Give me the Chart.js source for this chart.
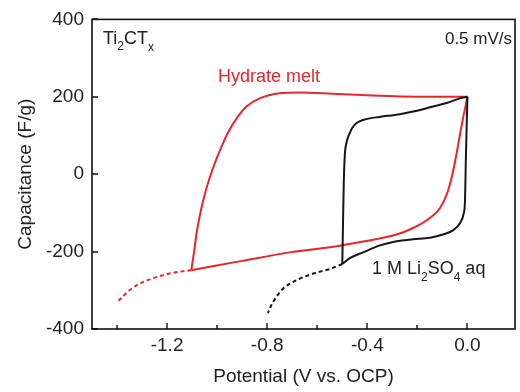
<!DOCTYPE html>
<html>
<head>
<meta charset="utf-8">
<script src="https://cdn.jsdelivr.net/npm/chart.js@4.4.1/dist/chart.umd.min.js"></script>
<style>
html,body{margin:0;padding:0;background:#fff;}
#wrap{width:520px;height:392px;}
</style>
</head>
<body>
<div id="wrap"><canvas id="c" width="520" height="392"></canvas></div>
<script>
// ---- Data ----
// Hydrate melt: upper/left branch (from 0 V vertex going negative)
const redTopV = [0, -0.13, -0.27, -0.40, -0.54, -0.67, -0.75, -0.83, -0.883, -0.916, -0.957, -0.987, -1.002, -1.025, -1.047, -1.066, -1.081, -1.092, -1.103];
const redTopC = [200, 200, 201, 204, 208, 211, 209, 196, 175, 150, 107, 64, 41, 0, -46, -97, -148, -199, -248];
// Hydrate melt: lower branch (from negative vertex back to 0 V)
const redBotV = [-1.103, -0.9, -0.71, -0.55, -0.417, -0.283, -0.217, -0.15, -0.11, -0.082, -0.060, -0.044, -0.030, -0.016, 0];
const redBotC = [-248, -224, -202, -189, -174, -156, -139, -113, -88, -51, 0, 51, 102, 150, 200];
// Hydrate melt: dotted extension
const redExtV = [-1.103, -1.177, -1.243, -1.31, -1.35, -1.394];
const redExtC = [-248, -255, -266, -283, -300, -327];

// 1 M Li2SO4 aq: upper/left branch
const blackTopV = [0, -0.03, -0.083, -0.137, -0.217, -0.27, -0.35, -0.40, -0.45, -0.47, -0.483, -0.49, -0.494, -0.497, -0.5];
const blackTopC = [200, 196, 184, 175, 162, 155, 148, 143, 128, 107, 82, 49, -20, -122, -232];
// 1 M Li2SO4 aq: lower branch
const blackBotV = [-0.5, -0.47, -0.417, -0.35, -0.283, -0.217, -0.15, -0.098, -0.058, -0.03, -0.016, -0.01, -0.006, 0];
const blackBotC = [-232, -217, -202, -184, -173, -168, -164, -156, -145, -127, -104, -71, 50, 200];
// 1 M Li2SO4 aq: dotted extension
const blackExtV = [-0.5, -0.55, -0.617, -0.683, -0.737, -0.763, -0.783, -0.797];
const blackExtC = [-232, -245, -257, -274, -296, -317, -338, -359];

// Axis ticks
const xMajorTicks = [-1.2, -0.8, -0.4, 0.0];
const xMinorTicks = [-1.4, -1.0, -0.6, -0.2];
const yMajorTicks = [-400, -200, 0, 200, 400];

// Texts
const xTitle = 'Potential (V vs. OCP)';
const yTitle = 'Capacitance (F/g)';

const RED = '#e5262b';
const BLACK = '#161616';
const FONT = '"Liberation Sans", Arial, Helvetica, sans-serif';

function pts(xs, ys) { return xs.map((v, i) => ({ x: v, y: ys[i] })); }

function drawRich(ctx, parts, x, y, align, size, subSize, color) {
  ctx.fillStyle = color;
  ctx.textBaseline = 'alphabetic';
  ctx.textAlign = 'left';
  let total = 0;
  parts.forEach(p => {
    ctx.font = (p.sub ? subSize : size) + 'px ' + FONT;
    p.w = ctx.measureText(p.t).width;
    total += p.w;
  });
  let cx = align === 'right' ? x - total : x;
  parts.forEach(p => {
    ctx.font = (p.sub ? subSize : size) + 'px ' + FONT;
    ctx.fillText(p.t, cx, y + (p.sub ? p.dy : 0));
    cx += p.w;
  });
}

const framePlugin = {
  id: 'frame',
  afterDatasetsDraw(chart) {
    const { ctx, chartArea: a, scales } = chart;
    const xs = scales.x, ys = scales.y;
    ctx.save();
    ctx.strokeStyle = '#111';
    ctx.lineWidth = 1.6;
    ctx.strokeRect(a.left, a.top, a.right - a.left, a.bottom - a.top);
    ctx.lineWidth = 1.4;
    ctx.beginPath();
    xMajorTicks.forEach(v => { const p = Math.round(xs.getPixelForValue(v)); ctx.moveTo(p, a.bottom); ctx.lineTo(p, a.bottom - 6); });
    xMinorTicks.forEach(v => { const p = Math.round(xs.getPixelForValue(v)); ctx.moveTo(p, a.bottom); ctx.lineTo(p, a.bottom - 4); });
    yMajorTicks.forEach(v => { const p = Math.round(ys.getPixelForValue(v)); ctx.moveTo(a.left, p); ctx.lineTo(a.left + 6, p); });
    ctx.stroke();

    drawRich(ctx, [{ t: 'Ti' }, { t: '2', sub: true, dy: 6 }, { t: 'CT' }, { t: 'x', sub: true, dy: 7 }],
      a.left + 11, a.top + 25, 'left', 18, 12, '#222');
    drawRich(ctx, [{ t: '0.5 mV/s' }], a.right - 3, a.top + 25, 'right', 17, 12, '#222');
    drawRich(ctx, [{ t: 'Hydrate melt' }], a.left + 126, a.top + 63, 'left', 18, 12, RED);
    drawRich(ctx, [{ t: '1 M Li' }, { t: '2', sub: true, dy: 7 }, { t: 'SO' }, { t: '4', sub: true, dy: 7 }, { t: ' aq' }],
      a.left + 280, a.top + 255, 'left', 18, 12, '#222');
    ctx.restore();
  }
};

const lineDs = (data, color, dashed) => ({
  data, showLine: true, borderColor: color, backgroundColor: color,
  borderWidth: 2, pointRadius: 0, cubicInterpolationMode: 'monotone', fill: false,
  borderDash: dashed ? [4, 3] : [], borderCapStyle: 'butt', borderJoinStyle: 'miter'
});

new Chart(document.getElementById('c'), {
  type: 'scatter',
  data: {
    datasets: [
      lineDs(pts(redExtV, redExtC), RED, true),
      lineDs(pts(blackExtV, blackExtC), BLACK, true),
      lineDs(pts(blackTopV, blackTopC), BLACK, false),
      lineDs(pts(blackBotV, blackBotC), BLACK, false),
      lineDs(pts(redTopV, redTopC), RED, false),
      lineDs(pts(redBotV, redBotC), RED, false)
    ]
  },
  options: {
    responsive: false,
    animation: false,
    devicePixelRatio: 1,
    layout: { padding: { top: 15, right: 5, left: 0, bottom: 0 } },
    plugins: { legend: { display: false }, tooltip: { enabled: false } },
    scales: {
      x: {
        type: 'linear', min: -1.5, max: 0.19,
        afterBuildTicks: s => { s.ticks = xMajorTicks.concat(xMinorTicks).sort((a, b) => a - b).map(v => ({ value: v })); },
        afterFit: s => { s.height = 63; },
        grid: { display: false, drawTicks: false },
        border: { display: false },
        ticks: {
          autoSkip: false, maxRotation: 0, padding: 5, color: '#222',
          font: { family: FONT, size: 19 },
          callback: v => xMajorTicks.some(m => Math.abs(m - v) < 1e-9) ? v.toFixed(1) : ''
        },
        title: { display: true, text: xTitle, color: '#222', font: { family: FONT, size: 19 }, padding: { top: 0, bottom: 4 } }
      },
      y: {
        type: 'linear', min: -400, max: 400,
        afterBuildTicks: s => { s.ticks = yMajorTicks.map(v => ({ value: v })); },
        afterFit: s => { s.width = 92; },
        grid: { display: false, drawTicks: false },
        border: { display: false },
        ticks: {
          padding: 8, color: '#222', font: { family: FONT, size: 19 },
          callback: v => String(v)
        },
        title: { display: true, text: yTitle, color: '#222', font: { family: FONT, size: 19 }, padding: { top: 14, bottom: 0 } }
      }
    }
  },
  plugins: [framePlugin]
});
</script>
</body>
</html>
